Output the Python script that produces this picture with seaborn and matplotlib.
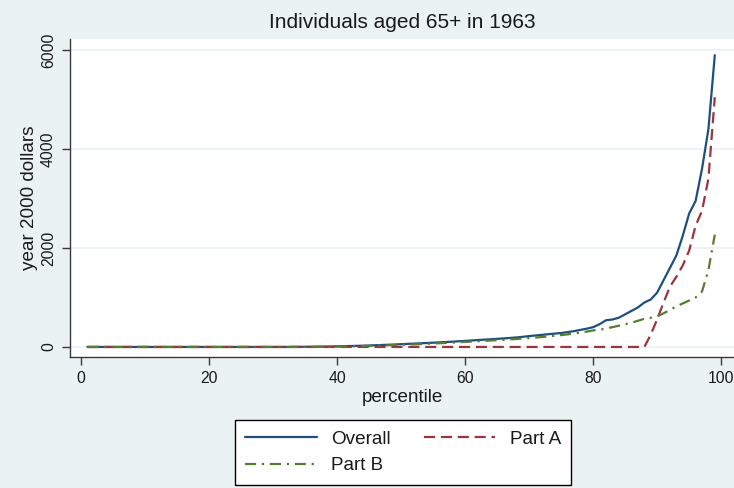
import numpy as np
import pandas as pd
import matplotlib
matplotlib.use("Agg")
import matplotlib.pyplot as plt
import seaborn as sns

# percentiles 1..99
percentile = list(range(1, 100))

overall = [0, 0, 0, 0, 0, 0, 0, 0, 0, 0,
           0, 0, 0, 0, 0, 0, 0, 0, 0, 0,
           0, 0, 0, 0, 0, 0, 0, 0, 0, 0,
           0, 0, 1, 2, 3, 4, 6, 8, 10, 13,
           16, 19, 22, 26, 30, 35, 40, 45, 50, 56,
           62, 68, 74, 80, 86, 93, 100, 107, 115, 123,
           131, 140, 148, 156, 164, 173, 182, 192, 205, 220,
           232, 245, 258, 270, 282, 300, 320, 345, 370, 400,
           460, 540, 555, 590, 660, 730, 800, 900, 960, 1100,
           1350, 1600, 1850, 2250, 2700, 2950, 3600, 4400, 5900]

part_a = [0, 0, 0, 0, 0, 0, 0, 0, 0, 0,
          0, 0, 0, 0, 0, 0, 0, 0, 0, 0,
          0, 0, 0, 0, 0, 0, 0, 0, 0, 0,
          0, 0, 0, 0, 0, 0, 0, 0, 0, 0,
          0, 0, 0, 0, 0, 0, 0, 0, 0, 0,
          0, 0, 0, 0, 0, 0, 0, 0, 0, 0,
          0, 0, 0, 0, 0, 0, 0, 0, 0, 0,
          0, 0, 0, 0, 0, 0, 0, 0, 0, 0,
          0, 0, 0, 0, 0, 0, 0, 0, 250, 560,
          900, 1220, 1420, 1650, 1950, 2450, 2750, 3400, 5050]

part_b = [0, 0, 0, 0, 0, 0, 0, 0, 0, 0,
          0, 0, 0, 0, 0, 0, 0, 0, 0, 0,
          0, 0, 0, 0, 0, 0, 0, 0, 0, 0,
          0, 0, 0, 1, 1, 2, 3, 4, 5, 7,
          9, 12, 15, 18, 22, 26, 30, 34, 38, 43,
          48, 53, 58, 63, 69, 75, 81, 88, 95, 102,
          109, 116, 123, 130, 137, 144, 152, 161, 170, 180,
          190, 201, 213, 226, 240, 255, 272, 290, 310, 335,
          350, 370, 400, 430, 460, 490, 530, 570, 590, 620,
          680, 750, 820, 880, 940, 1000, 1120, 1550, 2270]

x_ticks = [0, 20, 40, 60, 80, 100]
y_ticks = [0, 2000, 4000, 6000]

bg = "#eaf2f3"
sns.set_theme(style="white")
plt.rcParams["font.family"] = ["Liberation Sans", "DejaVu Sans"]

fig = plt.figure(figsize=(7.34, 4.88), dpi=100, facecolor=bg)
ax = fig.add_axes([70 / 734, 131 / 488, 664 / 734, 318 / 488])
ax.set_facecolor("white")

df = pd.DataFrame({"percentile": percentile, "Overall": overall,
                   "Part A": part_a, "Part B": part_b})

lw = 1.6
sns.lineplot(data=df, x="percentile", y="Overall", ax=ax, color="#1f4f7d",
             linewidth=lw, label="Overall")
sns.lineplot(data=df, x="percentile", y="Part A", ax=ax, color="#9a3540",
             linewidth=lw, linestyle=(0, (5, 2.6)), label="Part A")
sns.lineplot(data=df, x="percentile", y="Part B", ax=ax, color="#587c30",
             linewidth=lw, linestyle=(0, (5, 2.6, 1, 2.6)), label="Part B")
if ax.get_legend() is not None:
    ax.get_legend().remove()

ax.set_xlim(-1.72, 102)
ax.set_ylim(-203, 6227)
ax.set_xticks(x_ticks)
ax.set_yticks(y_ticks)
for yv in y_ticks:
    ax.axhline(yv, color=bg, linewidth=1.2, zorder=0)

for s in ["top", "right"]:
    ax.spines[s].set_visible(False)
for s in ["left", "bottom"]:
    ax.spines[s].set_color("#3a3a3a")
    ax.spines[s].set_linewidth(1.0)

ax.tick_params(axis="both", direction="out", length=6, width=1.0,
               color="#3a3a3a", labelsize=11.3, labelcolor="#1a1a1a",
               left=True, bottom=True)
ax.tick_params(axis="x", pad=4)
ax.tick_params(axis="y", pad=4)
for lab in ax.get_yticklabels():
    lab.set_rotation(90)
    lab.set_va("center")

ax.set_xlabel("percentile", fontsize=13.6, labelpad=2, color="#1a1a1a")
ax.set_ylabel("year 2000 dollars", fontsize=13.6, labelpad=2, color="#1a1a1a")
ax.set_title("Individuals aged 65+ in 1963", fontsize=15, pad=8, color="#1a1a1a")

h, l = ax.get_legend_handles_labels()
order = [l.index("Overall"), l.index("Part B"), l.index("Part A")]
leg = fig.legend([h[i] for i in order], [l[i] for i in order],
                 loc="upper center", bbox_to_anchor=(403 / 734, 68 / 488),
                 ncol=2, fontsize=13.6, frameon=True, fancybox=False,
                 borderaxespad=0, handlelength=3.8, handletextpad=0.75,
                 columnspacing=1.75, borderpad=0.55, labelspacing=0.5)
leg.get_frame().set_edgecolor("black")
leg.get_frame().set_linewidth(1.0)
leg.get_frame().set_facecolor("white")
leg.get_frame().set_alpha(1)
for t in leg.get_texts():
    t.set_color("#1a1a1a")

fig.savefig("out.png", dpi=100, facecolor=bg)
